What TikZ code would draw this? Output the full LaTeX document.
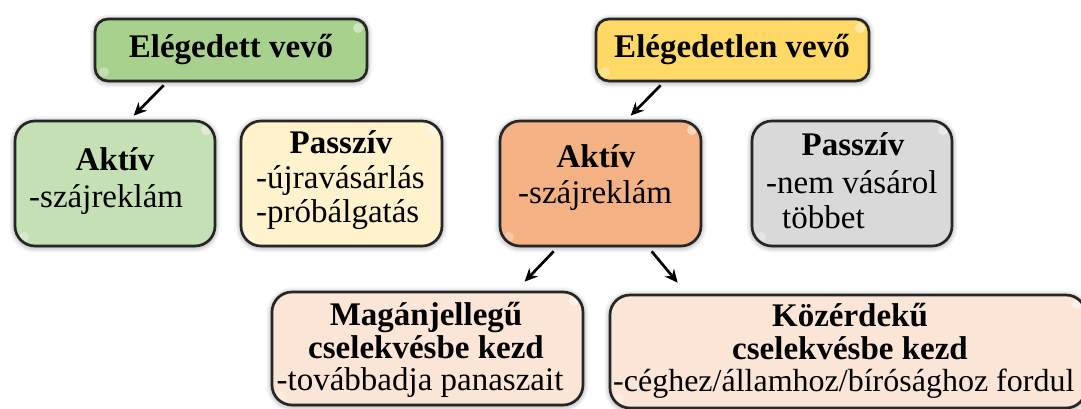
\documentclass[tikz,border=0pt]{standalone}
\usepackage{fontspec}
\setmainfont{Liberation Serif}
\usetikzlibrary{calc,arrows.meta,shadows.blur}

\definecolor{boxline}{HTML}{262626}
\definecolor{greentop}{HTML}{A9D18E}
\definecolor{greenbox}{HTML}{C5E0B4}
\definecolor{creambox}{HTML}{FFF2CC}
\definecolor{yellowtop}{HTML}{FFD966}
\definecolor{orangebox}{HTML}{F4B183}
\definecolor{greybox}{HTML}{D9D9D9}
\definecolor{peachbox}{HTML}{FBE5D6}

\begin{document}
\begin{tikzpicture}[x=1pt,y=-1pt,
  box/.style={draw=boxline, line width=2.7pt, rounded corners=#1, inner sep=0pt,
    blur shadow={shadow blur steps=10, shadow xshift=0pt, shadow yshift=-1pt,
      shadow blur radius=6pt, shadow opacity=45},
    path picture={
      \fill[white,opacity=.45] ([xshift=-9pt,yshift=-9pt]path picture bounding box.north east) circle (5pt);
      \fill[white,opacity=.3] ([xshift=9pt,yshift=9pt]path picture bounding box.south west) circle (5pt);
    }},
  box/.default=13pt,
  txt/.style={font=\fontsize{33}{36}\selectfont, inner sep=0pt},
  conn/.style={draw=black, line width=2.7pt, -{Stealth[length=13pt,width=12pt]}}]

\useasboundingbox (0,0) rectangle (1081,408);

% top row
\node[box, fill=greentop, minimum width=272pt, minimum height=62pt] (e1) at (231,50) {};
\node[box, fill=yellowtop, minimum width=273pt, minimum height=62pt] (e2) at (732.5,50) {};

% second row
\node[box=20pt, fill=greenbox, minimum width=200pt, minimum height=125pt] (gA) at (115,183.5) {};
\node[box=20pt, fill=creambox, minimum width=201pt, minimum height=125pt] (gP) at (341.5,183.5) {};
\node[box=20pt, fill=orangebox, minimum width=201pt, minimum height=125pt] (oA) at (600.5,183.5) {};
\node[box=20pt, fill=greybox, minimum width=200pt, minimum height=125pt] (grP) at (852,183.5) {};

% bottom row
\node[box=20pt, fill=peachbox, minimum width=311pt, minimum height=113pt] (mB) at (427.5,348.5) {};
\node[box=20pt, fill=peachbox, minimum width=476pt, minimum height=113pt] (kB) at (848,351.5) {};

% texts
\node[txt, anchor=base] (e1t) at (231,57) {\bfseries Elégedett vevő};
\node[txt, anchor=base] (e2t) at (732,57) {\bfseries Elégedetlen vevő};

\node[txt, anchor=base] (gA1) at (115,170) {\bfseries Aktív};
\node[txt, anchor=base west] (gA2) at (29,207) {-szájreklám};

\node[txt, anchor=base] (gP1) at (341,153) {\bfseries Passzív};
\node[txt, anchor=base west] (gP2) at (256,188) {-újravásárlás};
\node[txt, anchor=base west] (gP3) at (256,222) {-próbálgatás};

\node[txt, anchor=base] (oA1) at (596,167) {\bfseries Aktív};
\node[txt, anchor=base west] (oA2) at (518,203) {-szájreklám};

\node[txt, anchor=base] (grP1) at (853,155) {\bfseries Passzív};
\node[txt, anchor=base west] (grP2) at (766,193) {-nem vásárol};
\node[txt, anchor=base west] (grP3) at (782,228) {többet};

\node[txt, anchor=base] (mB1) at (426,325) {\bfseries Magánjellegű};
\node[txt, anchor=base] (mB2) at (426,358) {\bfseries cselekvésbe kezd};
\node[txt, anchor=base] (mB3) at (420,390) {-továbbadja panaszait};

\node[txt, anchor=base] (kB1) at (850,326) {\bfseries Közérdekű};
\node[txt, anchor=base] (kB2) at (850,359) {\bfseries cselekvésbe kezd};
\node[txt, anchor=base west, font=\fontsize{32}{36}\selectfont] (kB3) at (613,391) {-céghez/államhoz/bírósághoz fordul};

% connectors
\draw[conn] ($(e1.south west)+(70,3)$) -- ($(gA.north west)+(120,-4)$);
\draw[conn] ($(e2.south west)+(66,3)$) -- ($(oA.north west)+(132,-4)$);
\draw[conn] ($(oA.south west)+(55,4)$) -- ($(mB.north west)+(254,-9)$);
\draw[conn] ($(oA.south west)+(153,4)$) -- ($(kB.north west)+(69,-11)$);
\end{tikzpicture}
\end{document}
